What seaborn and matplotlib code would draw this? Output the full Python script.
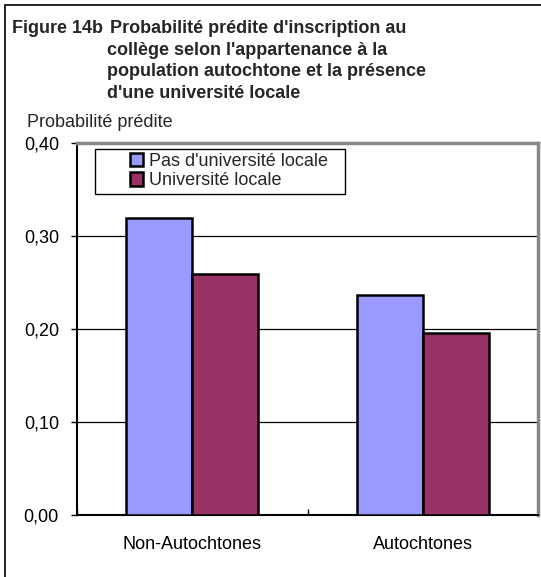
import matplotlib
matplotlib.use("Agg")
import matplotlib.pyplot as plt
from matplotlib.patches import Rectangle
import seaborn as sns
import pandas as pd

# Data
categories = ["Non-Autochtones", "Autochtones"]
series = ["Pas d'université locale", "Université locale"]
pas_universite = [0.319, 0.237]
universite = [0.259, 0.196]
y_ticks = [0.0, 0.1, 0.2, 0.3, 0.4]
y_tick_labels = ["0,00", "0,10", "0,20", "0,30", "0,40"]

title_lead = "Figure 14b"
title_lines = ["Probabilité prédite d'inscription au",
               "collège selon l'appartenance à la",
               "population autochtone et la présence",
               "d'une université locale"]
y_label = "Probabilité prédite"

colors = ["#9999FF", "#993366"]

df = pd.DataFrame({
    "groupe": categories * 2,
    "serie": [series[0]] * 2 + [series[1]] * 2,
    "valeur": pas_universite + universite,
})

sns.set_theme(style="white")
plt.rcParams["font.family"] = ["Liberation Sans", "DejaVu Sans"]

W, H = 541, 577
fig = plt.figure(figsize=(W / 100, H / 100), dpi=100)


def fx(px):
    return px / W


def fy(py):
    return 1 - py / H


# Outer frame
fig.patches.append(Rectangle((fx(5), fy(590)), fx(560), 585 / H,
                             transform=fig.transFigure, fill=False,
                             edgecolor="black", linewidth=1.2))

ax_left, ax_right, ax_top, ax_bottom = 77, 538, 143, 515
ax = fig.add_axes([fx(ax_left), fy(ax_bottom), fx(ax_right - ax_left),
                   (ax_bottom - ax_top) / H])

sns.barplot(data=df, x="groupe", y="valeur", hue="serie", order=categories,
            hue_order=series, palette=colors, width=0.573, edgecolor="black",
            linewidth=1.8, saturation=1, ax=ax, legend=False, zorder=3)

ax.set_xlim(-0.5, 1.5)
ax.set_ylim(0, 0.4)
ax.set_yticks(y_ticks)
ax.set_yticklabels(y_tick_labels, fontsize=13)
ax.set_xticks([0, 1])
ax.set_xticklabels(categories, fontsize=13)
ax.set_xticks([-0.5, 0.5, 1.5], minor=True)
ax.tick_params(axis="x", which="major", length=0, pad=15, colors="black")
ax.tick_params(axis="x", which="minor", length=4, direction="in",
               width=1, color="black", bottom=True)
ax.tick_params(axis="y", length=4, width=1, direction="out", pad=9,
               colors="black", left=True)
ax.set_xlabel("")
ax.set_ylabel("")

for y in y_ticks[1:-1]:
    ax.axhline(y, color="black", linewidth=0.9, zorder=1)

for side in ["left", "bottom"]:
    ax.spines[side].set_color("black")
    ax.spines[side].set_linewidth(1.5)
for side in ["top", "right"]:
    ax.spines[side].set_color("#888888")
    ax.spines[side].set_linewidth(2.5)
    ax.spines[side].set_visible(True)

# Legend box with square swatches
fig.patches.append(Rectangle((fx(95), fy(194)), fx(250), 45 / H,
                             transform=fig.transFigure, fill=False,
                             edgecolor="black", linewidth=1, zorder=5))
handles = [Rectangle((0, 0), 1, 1, facecolor=c, edgecolor="black",
                     linewidth=1.8) for c in colors]
leg = fig.legend(handles, series, loc="upper left",
                 bbox_to_anchor=(fx(126), fy(149)), frameon=False,
                 fontsize=13, handlelength=0.75, handleheight=0.75,
                 handletextpad=0.3, labelspacing=0.15, borderpad=0.2,
                 borderaxespad=0)

# Title block
fig.text(fx(12), fy(33), title_lead, fontsize=13, fontweight="bold",
         ha="left", va="baseline")
for i, line in enumerate(title_lines):
    fig.text(fx(110 if i == 0 else 107), fy(33 + i * 21.7), line,
             fontsize=13, fontweight="bold", ha="left", va="baseline")
fig.text(fx(27), fy(127), y_label, fontsize=13, ha="left", va="baseline")

fig.savefig("out.png", dpi=100)
